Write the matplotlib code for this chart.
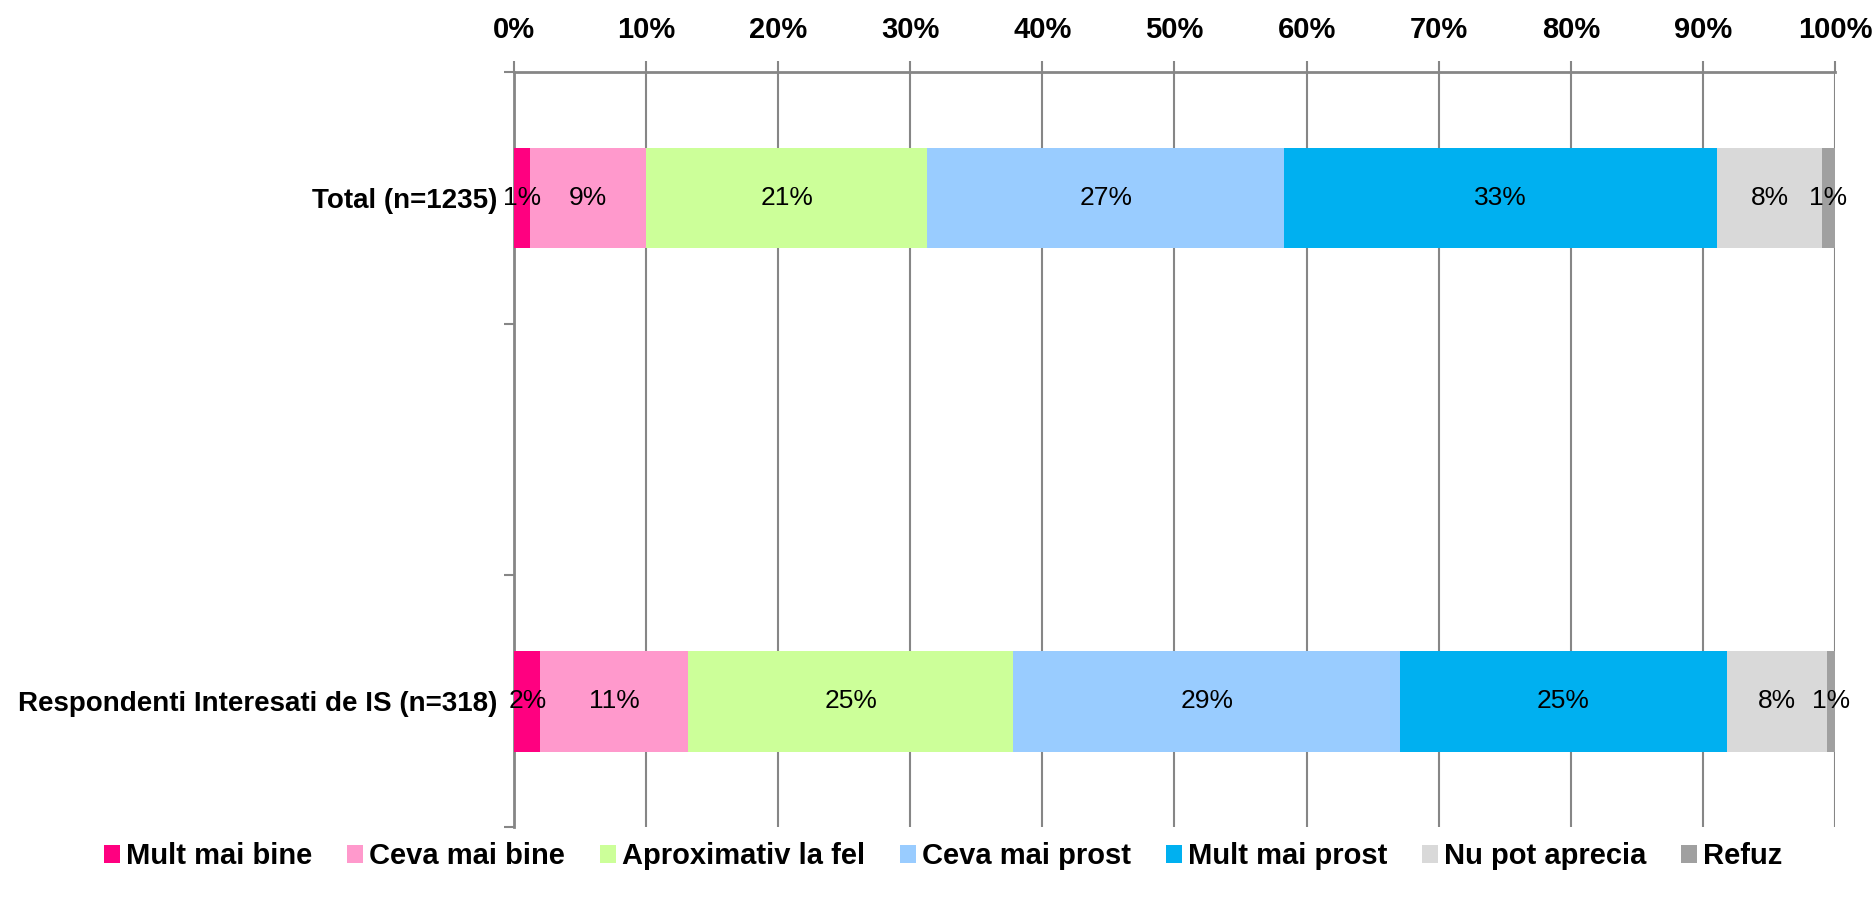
import numpy as np
import matplotlib
matplotlib.use("Agg")
import matplotlib.pyplot as plt

plt.rcParams['font.family'] = ['Liberation Sans', 'DejaVu Sans']

groups = ['Total (n=1235)', '', 'Respondenti Interesati de IS (n=318)']
series = ['Mult mai bine', 'Ceva mai bine', 'Aproximativ la fel', 'Ceva mai prost',
          'Mult mai prost', 'Nu pot aprecia', 'Refuz']
total_vals = [1.2, 8.8, 21.3, 27.0, 32.8, 7.9, 1.0]
interes_vals = [2.0, 11.2, 24.6, 29.3, 24.7, 7.6, 0.6]
colors = ['#FF0080', '#FF99CC', '#CCFF99', '#99CCFF', '#00B0F0', '#D9D9D9', '#A0A0A0']

fig = plt.figure(figsize=(18.72, 9.02), dpi=100)
ax = fig.add_axes([0.2746, 0.0831, 0.7056, 0.8369])

data = np.array([total_vals, [0] * 7, interes_vals])
ypos = np.arange(len(groups))
left = np.zeros(len(groups))
for i, name in enumerate(series):
    vals = data[:, i]
    bars = ax.barh(ypos, vals, left=left, height=0.4, color=colors[i], label=name, zorder=3)
    for j, b in enumerate(bars):
        if vals[j] > 0:
            ax.text(left[j] + vals[j] / 2, ypos[j], '%.0f%%' % vals[j],
                    ha='center', va='center', fontsize=19, color='black', zorder=4)
    left += vals

ax.set_xlim(0, 100)
ax.set_ylim(2.5, -0.5)
ax.xaxis.tick_top()
ax.set_xticks(np.arange(0, 101, 10))
ax.set_xticklabels(['%d%%' % v for v in range(0, 101, 10)], fontsize=21, fontweight='bold')
ax.tick_params(axis='x', length=8, color='#868686', width=1.5, pad=12)
ax.set_yticks([0, 2])
ax.set_yticklabels([groups[0], groups[2]], fontsize=20, fontweight='bold')
ax.set_yticks([-0.5, 0.5, 1.5, 2.5], minor=True)
ax.tick_params(axis='y', which='major', length=0, pad=12)
ax.tick_params(axis='y', which='minor', length=7, color='#868686', width=1.5)
ax.grid(axis='x', color='#868686', linewidth=1.5, zorder=0)
for s in ['right', 'bottom']:
    ax.spines[s].set_visible(False)
for s in ['left', 'top']:
    ax.spines[s].set_color('#868686')
    ax.spines[s].set_linewidth(2)

ax.legend(loc='upper center', bbox_to_anchor=(0.325, -0.005), ncol=7, frameon=False,
          prop={'size': 21, 'weight': 'bold'}, handlelength=0.55, handleheight=0.55,
          handletextpad=0.2, columnspacing=1.2, borderaxespad=0)

fig.savefig('out.png', dpi=100)
